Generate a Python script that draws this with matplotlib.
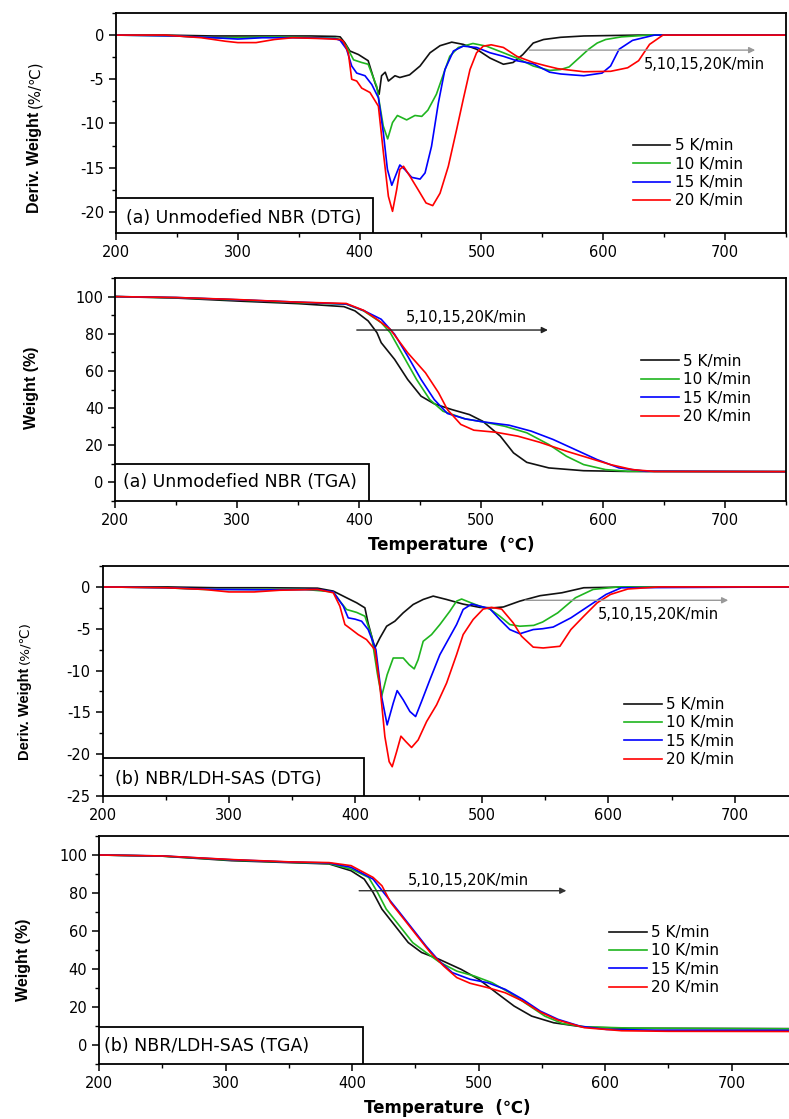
import matplotlib
matplotlib.use("Agg")
import matplotlib.pyplot as plt
from matplotlib.patches import Rectangle
from matplotlib.ticker import MultipleLocator

plt.rcParams['font.family'] = ['DejaVu Sans']
plt.rcParams['axes.unicode_minus'] = False

rates = ["5 K/min", "10 K/min", "15 K/min", "20 K/min"]
colors = ["#111111", "#1fb51f", "#0000ff", "#ff0000"]

# ---- (a) unmodified NBR, DTG ----
a_dtg_t5 = [200, 240, 280, 300, 330, 360, 380, 384, 388, 392, 399, 407, 412.6, 416, 418, 421, 423.6, 429, 433, 441,
            449.6, 457.8, 466, 475.6, 485, 496, 507, 518, 526, 534, 542.5, 551, 565, 584, 629, 680, 750]
a_dtg_v5 = [0, 0, -0.1, -0.1, -0.1, -0.1, -0.15, -0.2, -0.9, -1.8, -2.2, -2.9, -5.4, -6.7, -4.6, -4.2, -5.2, -4.6, -4.8, -4.5,
            -3.5, -2.0, -1.2, -0.8, -1.05, -1.6, -2.6, -3.3, -3.1, -2.2, -0.9, -0.5, -0.25, -0.1, 0, 0, 0]
a_dtg_t10 = [200, 250, 280, 300, 330, 360, 380, 384, 389, 395, 401.6, 407, 414, 419.4, 423, 427, 431, 438.6, 445.4, 451,
             456, 463, 468.6, 474, 481, 493, 504, 518, 529, 542.5, 556, 565, 572, 580, 588, 595, 602, 615, 638, 700, 750]
a_dtg_v10 = [0, -0.1, -0.3, -0.3, -0.2, -0.3, -0.35, -0.5, -1.2, -2.8, -3.1, -3.3, -5.8, -10.3, -11.75, -9.9, -9.1, -9.6, -9.1, -9.2,
             -8.5, -6.7, -4.5, -2.4, -1.4, -0.95, -1.25, -2.0, -2.6, -3.5, -4.0, -3.9, -3.6, -2.6, -1.6, -0.9, -0.5, -0.2, 0, 0, 0]
a_dtg_t15 = [200, 250, 280, 300, 320, 350, 380, 384, 389.3, 393.5, 397.6, 404.4, 410, 415.4, 419.5, 422.8, 426.4, 430.4, 433, 437,
             442.7, 449.6, 453.7, 459, 464.6, 470, 477, 485, 496, 507, 518, 529, 542.5, 556, 565, 574, 584, 599, 606, 613,
             624, 642, 700, 750]
a_dtg_v15 = [0, -0.1, -0.3, -0.45, -0.3, -0.3, -0.4, -0.6, -1.6, -3.5, -4.3, -4.6, -5.6, -7.1, -11.1, -15.2, -17.0, -15.6, -14.7, -15.2,
             -16.1, -16.3, -15.6, -12.6, -7.7, -3.9, -1.8, -1.25, -1.4, -2.0, -2.4, -2.9, -3.25, -4.2, -4.4, -4.5, -4.6, -4.3, -3.5, -1.6,
             -0.6, 0, 0, 0]
a_dtg_t20 = [200, 240, 270, 290, 300, 315, 330, 345, 370, 384, 386.6, 390.7, 393.5, 397.6, 401.7, 408.5, 415.4, 419.5, 423.6, 427,
             430.4, 433, 436, 441.4, 448, 454.5, 460, 466, 472.8, 479.6, 485, 490.6, 496, 501.5, 508, 518, 529, 542.5, 553.6, 562.6,
             584, 606, 620, 629, 638, 649, 700, 750]
a_dtg_v20 = [0, 0, -0.3, -0.7, -0.85, -0.85, -0.5, -0.3, -0.4, -0.5, -0.7, -2.0, -5.0, -5.2, -6.0, -6.5, -8.05, -13.3, -18.25, -19.95,
             -17.5, -15.2, -14.85, -16.0, -17.5, -19.0, -19.3, -17.9, -14.85, -10.7, -7.3, -3.9, -2.0, -1.25, -1.1, -1.4, -2.4, -3.1, -3.5, -3.8,
             -4.15, -4.1, -3.7, -2.9, -1.05, 0, 0, 0]

# ---- (a) unmodified NBR, TGA ----
a_tga_t5 = [200, 250, 300, 350, 387.4, 396.5, 407.3, 414.5, 418, 429, 439.7, 450.7, 461.5, 475.9, 490.4, 501.3, 515.7, 526.5,
            537.4, 555.5, 584, 620, 750]
a_tga_w5 = [100, 99.2, 97.6, 96.2, 94.6, 92.3, 86.9, 80.6, 75.2, 66.2, 55.4, 46.4, 42.3, 39.2, 36.5, 32.9, 24.9, 15.9,
            10.8, 7.8, 6.3, 5.9, 5.8]
a_tga_t10 = [200, 250, 300, 350, 389.3, 403.6, 418, 425.4, 436.2, 447, 457.8, 468.7, 486.8, 501.3, 519.4, 537.4, 555.5, 569.9,
             584, 602, 620, 750]
a_tga_w10 = [100, 99.4, 98.2, 96.8, 95.9, 92.3, 86.0, 80.6, 68.0, 55.4, 44.6, 38.3, 34.2, 32.6, 30.2, 26.7, 20.4, 14.1,
             9.6, 6.9, 6.0, 5.8]
a_tga_t15 = [200, 250, 300, 350, 389.3, 403.6, 418, 429, 439.7, 450.7, 461.5, 472.3, 486.8, 501.3, 522.8, 541, 559, 577,
             595, 613, 635, 750]
a_tga_w15 = [100, 99.5, 98.3, 97.0, 96.0, 92.5, 87.8, 79.7, 68.0, 55.4, 44.6, 37.1, 34.2, 32.6, 30.8, 27.6, 23.1, 17.7,
             12.3, 7.8, 6.0, 5.8]
a_tga_t20 = [200, 250, 300, 350, 389.3, 403.6, 414.5, 425.4, 439.7, 454.3, 465, 472.3, 483.3, 494, 512, 530, 548, 569.9,
             588, 606, 624, 642, 750]
a_tga_w20 = [100, 99.5, 98.4, 97.0, 96.3, 92.6, 87.8, 82.4, 69.8, 59.0, 48.3, 39.2, 31.2, 28.1, 27.0, 24.9, 21.6, 16.8,
             13.2, 9.6, 6.9, 5.9, 5.8]

# ---- (b) NBR/LDH-SAS, DTG ----
b_dtg_t5 = [200, 250, 290, 330, 370, 382.5, 393, 401, 407.5, 410, 415.4, 419.4, 424.7, 431.2, 437.8, 445.7, 453.6, 461.5,
            472, 485, 498.4, 509, 517, 530, 546, 563.3, 580.6, 620, 750]
b_dtg_v5 = [0, 0, -0.1, -0.1, -0.15, -0.5, -1.3, -1.9, -2.5, -4.3, -7.3, -6.1, -4.7, -4.1, -3.1, -2.1, -1.5, -1.1,
            -1.5, -2.05, -2.45, -2.5, -2.4, -1.7, -1.05, -0.7, -0.1, 0, 0]
b_dtg_t10 = [200, 250, 280, 320, 360, 382.5, 387.7, 393, 401, 407.5, 412.8, 417.3, 420.7, 425.1, 429.9, 437.8, 442.5, 446.5,
             449.6, 453.6, 460.2, 466.8, 474.7, 480, 484, 490.5, 498.4, 506.3, 514.2, 522.1, 530, 541, 548, 560, 574, 588,
             608, 750]
b_dtg_v10 = [0, -0.1, -0.3, -0.3, -0.3, -0.6, -1.7, -2.7, -3.05, -3.5, -5.9, -10.3, -13.1, -10.5, -8.5, -8.5, -9.3, -9.8,
             -8.7, -6.5, -5.7, -4.5, -2.9, -1.7, -1.45, -1.85, -2.3, -2.65, -3.5, -4.5, -4.7, -4.6, -4.2, -3.1, -1.3, -0.3,
             0, 0]
b_dtg_t15 = [200, 250, 290, 330, 370, 382.5, 390.4, 394.3, 399.6, 404.9, 410.1, 416.2, 420.7, 425.1, 429.9, 433, 437.8, 443.1,
             447.6, 452.3, 458.9, 466.8, 473.4, 480, 485.2, 491.9, 498.4, 506.3, 514.2, 522.1, 530, 540.6, 548, 556.4, 570.4,
             584.3, 598.2, 610.3, 750]
b_dtg_v15 = [0, -0.1, -0.3, -0.35, -0.3, -0.6, -2.3, -3.7, -3.85, -4.1, -5.1, -7.5, -13.1, -16.5, -13.9, -12.4, -13.5, -14.9,
             -15.5, -13.7, -11.1, -8.1, -6.3, -4.5, -2.7, -2.05, -2.3, -2.6, -3.9, -5.1, -5.6, -5.1, -5.0, -4.8, -3.7,
             -2.3, -0.9, -0.1, 0]
b_dtg_t20 = [200, 250, 280, 300, 320, 340, 370, 382.5, 387.7, 391.7, 397, 402.2, 408.8, 415.4, 419.4, 423.3, 426.7, 429.1,
             432.6, 436, 439.9, 444.4, 449.6, 456.3, 464.2, 472.1, 480, 485.2, 493.1, 501, 507.7, 515.6, 524.8, 531.4,
             540.6, 548.5, 561.7, 570.4, 580.6, 591.2, 601.7, 615.4, 640, 750]
b_dtg_v20 = [0, -0.1, -0.3, -0.6, -0.6, -0.4, -0.3, -0.7, -2.3, -4.5, -5.1, -5.7, -6.3, -7.5, -11.9, -17.9, -20.9, -21.5,
             -19.7, -17.85, -18.5, -19.2, -18.3, -16.1, -14.1, -11.5, -8.1, -5.7, -3.9, -2.65, -2.45, -2.65, -4.3, -5.9,
             -7.2, -7.3, -7.1, -5.1, -3.5, -1.9, -0.9, -0.25, 0, 0]

# ---- (b) NBR/LDH-SAS, TGA ----
b_tga_t5 = [200, 250, 305, 350, 381.8, 399.2, 409.6, 416.6, 423.6, 434, 444.4, 454.9, 468.8, 486.2, 500.1, 514, 528, 541.9,
            559.3, 583.6, 618, 750]
b_tga_w5 = [100, 99.4, 97.0, 96.0, 95.3, 91.7, 87.3, 80.3, 71.5, 62.7, 53.9, 48.7, 45.1, 39.8, 34.6, 27.5, 20.5, 15.2,
            11.7, 9.4, 8.8, 8.6]
b_tga_t10 = [200, 250, 305, 350, 381.8, 399.2, 413.1, 420.1, 427, 437.5, 447.9, 458.4, 468.8, 482.7, 496.6, 510.6, 524.5,
             538.4, 552.3, 566.2, 583.6, 620, 750]
b_tga_w10 = [100, 99.4, 97.3, 96.2, 95.5, 92.6, 88.2, 80.3, 71.5, 62.7, 53.9, 48.7, 43.7, 38.9, 36.3, 32.8, 27.5,
             21.4, 15.2, 11.3, 9.6, 8.9, 8.5]
b_tga_t15 = [200, 250, 305, 350, 381.8, 399.2, 416.6, 427, 437.5, 447.9, 458.4, 468.8, 479.2, 493.2, 507.1, 521, 534.9,
             548.8, 562.7, 580.2, 601, 640, 750]
b_tga_w15 = [100, 99.5, 97.5, 96.3, 95.8, 93.5, 87.3, 78.5, 69.8, 61.0, 52.1, 44.2, 38.1, 34.6, 32.8, 29.3, 24.0,
             17.8, 13.5, 9.9, 8.2, 7.8, 7.7]
b_tga_t20 = [200, 250, 305, 350, 381.8, 399.2, 416.6, 423.6, 430.5, 441, 451.4, 461.8, 472.3, 482.7, 493.2, 507.1, 521,
             534.9, 548.8, 562.7, 583.6, 613, 650, 750]
b_tga_w20 = [100, 99.5, 97.6, 96.4, 96.0, 94.4, 88.2, 83.8, 75.0, 66.2, 57.4, 48.7, 41.6, 35.5, 32.5, 30.2, 27.5,
             23.1, 17.3, 13.1, 9.1, 7.5, 7.2, 7.1]

W, H = 789, 1119
fig = plt.figure(figsize=(W / 100, H / 100), dpi=100)
renderer = fig.canvas.get_renderer()


def px_axes(left, top, right, bottom):
    return fig.add_axes([left / W, 1 - bottom / H, (right - left) / W, (bottom - top) / H])


def style(ax, ylim, ymaj, ymin):
    ax.set_xlim(200, 750)
    ax.set_ylim(*ylim)
    ax.xaxis.set_major_locator(MultipleLocator(100))
    ax.xaxis.set_minor_locator(MultipleLocator(50))
    ax.yaxis.set_major_locator(MultipleLocator(ymaj))
    ax.yaxis.set_minor_locator(MultipleLocator(ymin))
    ax.tick_params(which='major', direction='out', length=5, width=1.1, labelsize=10.5)
    ax.tick_params(which='minor', direction='out', length=3, width=1.0)
    for s in ax.spines.values():
        s.set_linewidth(1.3)


def add_box(ax, w, h, tx, ty, label):
    ax.add_patch(Rectangle((0, 0), w, h, transform=ax.transAxes, facecolor='white',
                           edgecolor='black', lw=1.3, zorder=5))
    ax.text(tx, ty, label, transform=ax.transAxes, fontsize=12.5, va='center', ha='left', zorder=6)


def add_legend(ax, x, y):
    ax.legend(rates, loc='upper left', bbox_to_anchor=(x, y), frameon=False, fontsize=11,
              handlelength=2.45, handletextpad=0.3, labelspacing=0.22, borderpad=0, borderaxespad=0)


def arrow(ax, x0, x1, y, col):
    ax.annotate('', xy=(x1, y), xytext=(x0, y),
                arrowprops=dict(arrowstyle='-|>', color=col, lw=1.0, mutation_scale=9))


def dtg_ylabel(x, y_bottom, size):
    # bold part and unit part are separate texts (unit needs the ℃ glyph)
    t = fig.text(x / W, 1 - y_bottom / H, "Deriv. Weight", rotation=90, ha='center', va='bottom',
                 fontsize=size, fontweight='bold', family='Liberation Sans')
    bb = t.get_window_extent(renderer)
    fig.text(x / W, (bb.y1 + 4) / H, "(%/℃)", rotation=90, ha='center', va='bottom', fontsize=size - 0.8)


tga_label = 'Weight (%)'

# panel 1
ax1 = px_axes(116, 13, 786, 233)
for t, v, c in zip([a_dtg_t5, a_dtg_t10, a_dtg_t15, a_dtg_t20], [a_dtg_v5, a_dtg_v10, a_dtg_v15, a_dtg_v20], colors):
    ax1.plot(t, v, color=c, lw=1.2)
style(ax1, (-22.4, 2.5), 5, 2.5)
dtg_ylabel(35, 213, 11.5)
add_legend(ax1, 0.771, 0.43)
arrow(ax1, 537, 727, -1.7, '#999999')
ax1.text(633.5, -3.3, "5,10,15,20K/min", fontsize=10.5, va='center', ha='left')
add_box(ax1, 0.384, 0.160, 0.0155, 0.067, "(a) Unmodefied NBR (DTG)")

# panel 2
ax2 = px_axes(115.4, 278, 786, 501)
for t, v, c in zip([a_tga_t5, a_tga_t10, a_tga_t15, a_tga_t20], [a_tga_w5, a_tga_w10, a_tga_w15, a_tga_w20], colors):
    ax2.plot(t, v, color=c, lw=1.2)
style(ax2, (-10, 110), 20, 10)
ax2.set_ylabel(tga_label, fontsize=11.5, fontweight='bold', family='Liberation Sans')
ax2.yaxis.set_label_coords(-0.114, 0.507)
add_legend(ax2, 0.784, 0.66)
arrow(ax2, 395.7, 557, 82, '#222222')
ax2.text(488, 88.7, "5,10,15,20K/min", fontsize=10.5, va='center', ha='center')
add_box(ax2, 0.378, 0.166, 0.012, 0.087, "(a) Unmodefied NBR (TGA)")
fig.text(451 / W, 1 - 545 / H, "Temperature  (℃)", fontsize=12, fontweight='bold', ha='center', va='center')

# panel 3
ax3 = px_axes(102.5, 566, 798, 796)
for t, v, c in zip([b_dtg_t5, b_dtg_t10, b_dtg_t15, b_dtg_t20], [b_dtg_v5, b_dtg_v10, b_dtg_v15, b_dtg_v20], colors):
    ax3.plot(t, v, color=c, lw=1.2)
style(ax3, (-25, 2.5), 5, 2.5)
dtg_ylabel(25, 760, 10.5)
add_legend(ax3, 0.750, 0.43)
arrow(ax3, 532, 697, -1.6, '#999999')
ax3.text(592, -3.3, "5,10,15,20K/min", fontsize=10.5, va='center', ha='left')
add_box(ax3, 0.376, 0.164, 0.0185, 0.073, "(b) NBR/LDH-SAS (DTG)")

# panel 4
ax4 = px_axes(99, 836, 795, 1064)
for t, v, c in zip([b_tga_t5, b_tga_t10, b_tga_t15, b_tga_t20], [b_tga_w5, b_tga_w10, b_tga_w15, b_tga_w20], colors):
    ax4.plot(t, v, color=c, lw=1.2)
style(ax4, (-10, 110), 20, 10)
ax4.set_ylabel(tga_label, fontsize=11.5, fontweight='bold', family='Liberation Sans')
ax4.yaxis.set_label_coords(-0.097, 0.456)
add_legend(ax4, 0.733, 0.61)
arrow(ax4, 403.4, 571.5, 81.2, '#333333')
ax4.text(492, 86.4, "5,10,15,20K/min", fontsize=10.5, va='center', ha='center')
add_box(ax4, 0.379, 0.164, 0.0078, 0.079, "(b) NBR/LDH-SAS (TGA)")
fig.text(447 / W, 1 - 1108 / H, "Temperature  (℃)", fontsize=12, fontweight='bold', ha='center', va='center')

fig.savefig("out.png", dpi=100)
